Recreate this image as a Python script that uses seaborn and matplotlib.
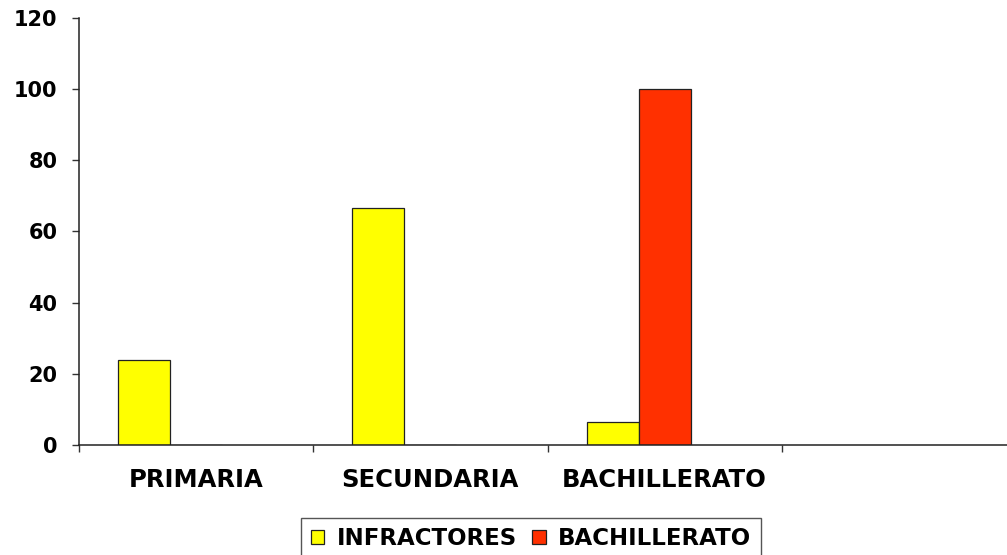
import numpy as np
import pandas as pd
import matplotlib
matplotlib.use("Agg")
import matplotlib.pyplot as plt
from matplotlib.patches import Patch
from matplotlib.ticker import FixedLocator, NullFormatter
import seaborn as sns

# Data
categories = ["PRIMARIA", "SECUNDARIA", "BACHILLERATO"]
series_names = ["INFRACTORES", "BACHILLERATO", "OTROS"]
infractores = [23.8, 66.7, 6.4]
bachillerato = [0, 0, 100]
otros = [np.nan, np.nan, np.nan]
y_ticks = [0, 20, 40, 60, 80, 100, 120]

colors = ["#FFFF00", "#FF3000", "#9999FF"]

df = pd.DataFrame({
    "nivel": categories * 3,
    "serie": [series_names[0]] * 3 + [series_names[1]] * 3 + [series_names[2]] * 3,
    "valor": infractores + bachillerato + otros,
})

sns.set_style("white")
plt.rcParams["font.family"] = ["DejaVu Sans"]
plt.rcParams["font.weight"] = "bold"
plt.rcParams["text.color"] = "black"
plt.rcParams["xtick.color"] = "black"
plt.rcParams["ytick.color"] = "black"
plt.rcParams["xtick.labelcolor"] = "black"
plt.rcParams["ytick.labelcolor"] = "black"

fig = plt.figure(figsize=(10.07, 5.55), dpi=100)
ax = fig.add_axes([79 / 1007, 1 - 445.3 / 555, 937 / 1007, 427.8 / 555])

sns.barplot(
    data=df, x="nivel", y="valor", hue="serie",
    order=categories, hue_order=series_names,
    palette=colors, width=0.666, errorbar=None,
    edgecolor="#222222", linewidth=0.9, saturation=1,
    legend=False, ax=ax,
)

ax.set_xlim(-0.5, 3.5)
ax.set_ylim(0, 120)
ax.set_xlabel("")
ax.set_ylabel("")

# y axis
ax.set_yticks(y_ticks)
ax.set_yticklabels([str(v) for v in y_ticks], fontsize=15, fontweight="bold", color="black")
ax.tick_params(axis="y", direction="out", length=5, width=1, color="#333333", pad=10.5, left=True)

# x axis: labels centred in each slot, tick marks on slot boundaries
ax.set_xticks(range(len(categories)))
ax.set_xticklabels(categories, fontsize=17.5, fontweight="bold", color="black")
ax.tick_params(axis="x", which="major", length=0, pad=16.5)
ax.xaxis.set_minor_locator(FixedLocator(np.arange(-0.5, 4.0, 1.0)))
ax.xaxis.set_minor_formatter(NullFormatter())
ax.tick_params(axis="x", which="minor", direction="out", length=5, width=1, color="#333333", bottom=True)

for side in ["top", "right"]:
    ax.spines[side].set_visible(False)
for side in ["left", "bottom"]:
    ax.spines[side].set_color("#222222")
    ax.spines[side].set_linewidth(1.1)
    ax.spines[side].set_zorder(5)

handles = [Patch(facecolor=colors[i], edgecolor="#222222", linewidth=0.9) for i in range(2)]
leg = fig.legend(
    handles, series_names[:2],
    loc="upper center", bbox_to_anchor=(531 / 1007, 1 - 517.7 / 555),
    ncol=2, frameon=True, fancybox=False, shadow=False,
    edgecolor="#555555", framealpha=1,
    prop={"size": 16.5, "weight": "bold"},
    handlelength=0.6, handleheight=0.6, handletextpad=0.55,
    columnspacing=0.65, borderpad=0.4, borderaxespad=0,
)
for t in leg.get_texts():
    t.set_color("black")

fig.savefig("out.png", dpi=100)
